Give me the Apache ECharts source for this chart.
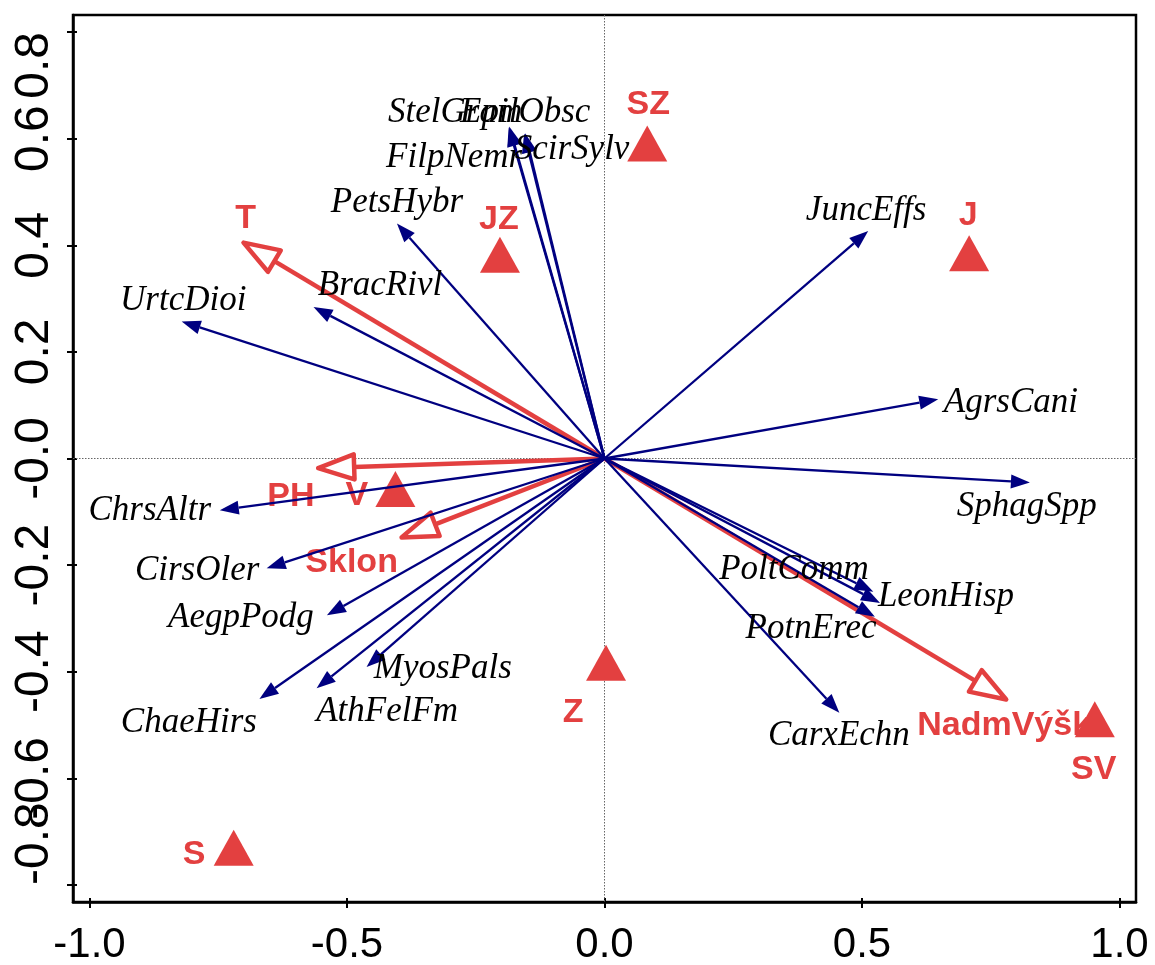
<!DOCTYPE html>
<html>
<head>
<meta charset="utf-8">
<script src="https://cdn.jsdelivr.net/npm/echarts@6/dist/echarts.min.js"></script>
<style>
html,body{margin:0;padding:0;background:#fff;}
#chart{width:1155px;height:965px;}
</style>
</head>
<body>
<div id="chart"></div>
<script>
// ---- data ----
const speciesNames = ['UrtcDioi','BracRivl','PetsHybr','StelGram','EpilObsc','FilpNemr','ScirSylv','JuncEffs','AgrsCani','SphagSpp','PoltComm','LeonHisp','PotnErec','CarxEchn','ChrsAltr','CirsOler','AegpPodg','ChaeHirs','AthFelFm','MyosPals'];
const speciesX = [-0.821,-0.565,-0.403,-0.186,-0.185,-0.156,-0.154,0.512,0.648,0.826,0.522,0.535,0.525,0.456,-0.747,-0.656,-0.539,-0.670,-0.559,-0.462];
const speciesY = [0.257,0.284,0.441,0.621,0.623,0.609,0.610,0.427,0.111,-0.045,-0.250,-0.271,-0.297,-0.477,-0.097,-0.206,-0.294,-0.451,-0.431,-0.391];
const speciesLabelX = [-0.818,-0.436,-0.403,-0.290,-0.154,-0.292,-0.063,0.508,0.789,0.820,0.368,0.663,0.401,0.455,-0.883,-0.791,-0.706,-0.807,-0.422,-0.314];
const speciesLabelY = [0.295,0.324,0.480,0.649,0.649,0.565,0.580,0.464,0.105,-0.091,-0.208,-0.259,-0.319,-0.521,-0.098,-0.211,-0.298,-0.495,-0.476,-0.394];

const envNames = ['T','PH','Sklon','NadmVýšk'];
const envX = [-0.701,-0.556,-0.394,0.780];
const envY = [0.405,-0.018,-0.148,-0.452];
const envLabelX = [-0.697,-0.609,-0.491,0.776];
const envLabelY = [0.450,-0.072,-0.196,-0.502];

const centroidNames = ['SZ','JZ','J','V','Z','SV','S'];
const centroidX = [0.083,-0.203,0.708,-0.406,0.003,0.952,-0.720];
const centroidY = [0.591,0.382,0.385,-0.057,-0.383,-0.489,-0.730];
const centroidLabelX = [0.085,-0.205,0.706,-0.481,-0.061,0.950,-0.797];
const centroidLabelY = [0.664,0.448,0.455,-0.070,-0.477,-0.583,-0.743];

const xTickValues = [-1.0,-0.5,0.0,0.5,1.0];
const xTickLabels = ['-1.0','-0.5','0.0','0.5','1.0'];
const yTickValues = [-0.8,-0.6,-0.4,-0.2,0.0,0.2,0.4,0.6,0.8];
const yTickLabels = ['-0.8','-0.6','-0.4','-0.2','-0.0','0.2','0.4','0.6','0.8'];

const xRange = [-1.032, 1.032];
const yRange = [-0.832, 0.832];

// ---- styles ----
const RED = '#E34040';
const NAVY = '#000080';

function pickLabel(values, labels) {
  return function (v) {
    for (let i = 0; i < values.length; i++) {
      if (Math.abs(values[i] - v) < 1e-9) return labels[i];
    }
    return '';
  };
}

function arrowRender(opts) {
  return function (params, api) {
    const o = api.coord([0, 0]);
    const t = api.coord([api.value(0), api.value(1)]);
    const dx = t[0] - o[0], dy = t[1] - o[1];
    const len = Math.sqrt(dx * dx + dy * dy);
    const ux = dx / len, uy = dy / len;
    const bx = t[0] - ux * opts.headLen, by = t[1] - uy * opts.headLen;
    const px = -uy, py = ux;
    return {
      type: 'group',
      children: [
        { type: 'line', shape: { x1: o[0], y1: o[1], x2: bx, y2: by },
          style: { stroke: opts.color, lineWidth: opts.lineWidth } },
        { type: 'polygon',
          shape: { points: [[t[0], t[1]], [bx + px * opts.headHalf, by + py * opts.headHalf], [bx - px * opts.headHalf, by - py * opts.headHalf]] },
          style: opts.open
            ? { fill: '#fff', stroke: opts.color, lineWidth: opts.lineWidth, lineJoin: 'round' }
            : { fill: opts.color } }
      ]
    };
  };
}

function textRender(names, font) {
  return function (params, api) {
    const p = api.coord([api.value(0), api.value(1)]);
    return {
      type: 'text', x: p[0], y: p[1],
      style: Object.assign({ text: names[params.dataIndex], align: 'center', verticalAlign: 'middle' }, font)
    };
  };
}

const speciesData = speciesX.map((x, i) => [x, speciesY[i]]);
const speciesLabelData = speciesLabelX.map((x, i) => [x, speciesLabelY[i]]);
const envData = envX.map((x, i) => [x, envY[i]]);
const envLabelData = envLabelX.map((x, i) => [x, envLabelY[i]]);
const centroidData = centroidX.map((x, i) => [x, centroidY[i]]);
const centroidLabelData = centroidLabelX.map((x, i) => [x, centroidLabelY[i]]);

const yLabelFont = { rotate: 90, fontSize: 48, fontFamily: 'Liberation Sans', color: '#000', margin: 14 };

const chart = echarts.init(document.getElementById('chart'), null, { renderer: 'canvas' });

const option = {
  animation: false,
  backgroundColor: '#fff',
  grid: { left: 73, right: 19, top: 15, bottom: 63, show: true, borderColor: '#000', borderWidth: 2.5, outerBoundsMode: 'none', containLabel: false },
  xAxis: [
    { type: 'value', min: xRange[0], max: xRange[1], position: 'bottom',
      axisLine: { show: true, onZero: false, lineStyle: { color: '#000', width: 2.5 } },
      axisTick: { show: true, customValues: xTickValues, length: 6, lineStyle: { color: '#000', width: 2 } },
      axisLabel: { show: true, customValues: xTickValues, formatter: pickLabel(xTickValues, xTickLabels),
        fontSize: 42, fontFamily: 'Liberation Sans', color: '#000', margin: 22,
        showMinLabel: true, showMaxLabel: true },
      splitLine: { show: false } },
    { type: 'value', min: xRange[0], max: xRange[1], position: 'bottom',
      axisLine: { show: false, onZero: false },
      axisTick: { show: true, inside: true, customValues: xTickValues, length: 4, lineStyle: { color: '#000', width: 2 } },
      axisLabel: { show: false }, splitLine: { show: false } }
  ],
  yAxis: [
    // main axis: ticks for all values, labels from -0.6 up to 0.8 (0.8 pushed inside the box)
    { type: 'value', min: yRange[0], max: yRange[1], position: 'left',
      axisLine: { show: true, onZero: false, lineStyle: { color: '#000', width: 2.5 } },
      axisTick: { show: true, customValues: yTickValues, length: 6, lineStyle: { color: '#000', width: 2 } },
      axisLabel: Object.assign({ show: true, customValues: yTickValues.slice(1), formatter: pickLabel(yTickValues, yTickLabels),
        alignMaxLabel: 'right', showMinLabel: true, showMaxLabel: true }, yLabelFont),
      splitLine: { show: false } },
    // companion axis: inner half of the ticks and the bottom label pushed inside the box
    { type: 'value', min: yRange[0], max: yRange[1], position: 'left',
      axisLine: { show: false, onZero: false },
      axisTick: { show: true, inside: true, customValues: yTickValues, length: 4, lineStyle: { color: '#000', width: 2 } },
      axisLabel: Object.assign({ show: true, customValues: yTickValues.slice(0, 1), formatter: pickLabel(yTickValues, yTickLabels),
        align: 'left', alignMinLabel: 'left', alignMaxLabel: 'left', showMinLabel: true, showMaxLabel: true }, yLabelFont),
      splitLine: { show: false } }
  ],
  series: [
    { type: 'custom', name: 'zero', data: [[0, 0]], z: 1, silent: true,
      renderItem: function (params, api) {
        const c = api.coord([0, 0]);
        const cs = params.coordSys;
        return { type: 'group', children: [
          { type: 'line', shape: { x1: c[0], y1: cs.y, x2: c[0], y2: cs.y + cs.height },
            style: { stroke: '#666', lineWidth: 1, lineDash: [1.5, 1.5] } },
          { type: 'line', shape: { x1: cs.x, y1: c[1], x2: cs.x + cs.width, y2: c[1] },
            style: { stroke: '#666', lineWidth: 1, lineDash: [1.5, 1.5] } }
        ] };
      } },
    { type: 'custom', name: 'env', data: envData, z: 2, silent: true,
      renderItem: arrowRender({ color: RED, lineWidth: 4.5, headLen: 36, headHalf: 12.5, open: true }) },
    { type: 'custom', name: 'envLabels', data: envLabelData, z: 3, silent: true,
      renderItem: textRender(envNames, { fontSize: 34, fontWeight: 'bold', fontFamily: 'Liberation Sans', fill: RED }) },
    { type: 'scatter', name: 'centroids', data: centroidData, z: 4, silent: true,
      symbol: 'triangle', symbolSize: [40, 36], itemStyle: { color: RED, opacity: 1 } },
    { type: 'custom', name: 'centroidLabels', data: centroidLabelData, z: 4, silent: true,
      renderItem: textRender(centroidNames, { fontSize: 34, fontWeight: 'bold', fontFamily: 'Liberation Sans', fill: RED }) },
    { type: 'custom', name: 'species', data: speciesData, z: 5, silent: true,
      renderItem: arrowRender({ color: NAVY, lineWidth: 2.3, headLen: 19, headHalf: 7, open: false }) },
    { type: 'custom', name: 'speciesLabels', data: speciesLabelData, z: 6, silent: true,
      renderItem: textRender(speciesNames, { fontSize: 35, fontStyle: 'italic', fontFamily: 'Liberation Serif', fill: '#000' }) }
  ]
};
chart.setOption(option);
</script>
</body>
</html>
